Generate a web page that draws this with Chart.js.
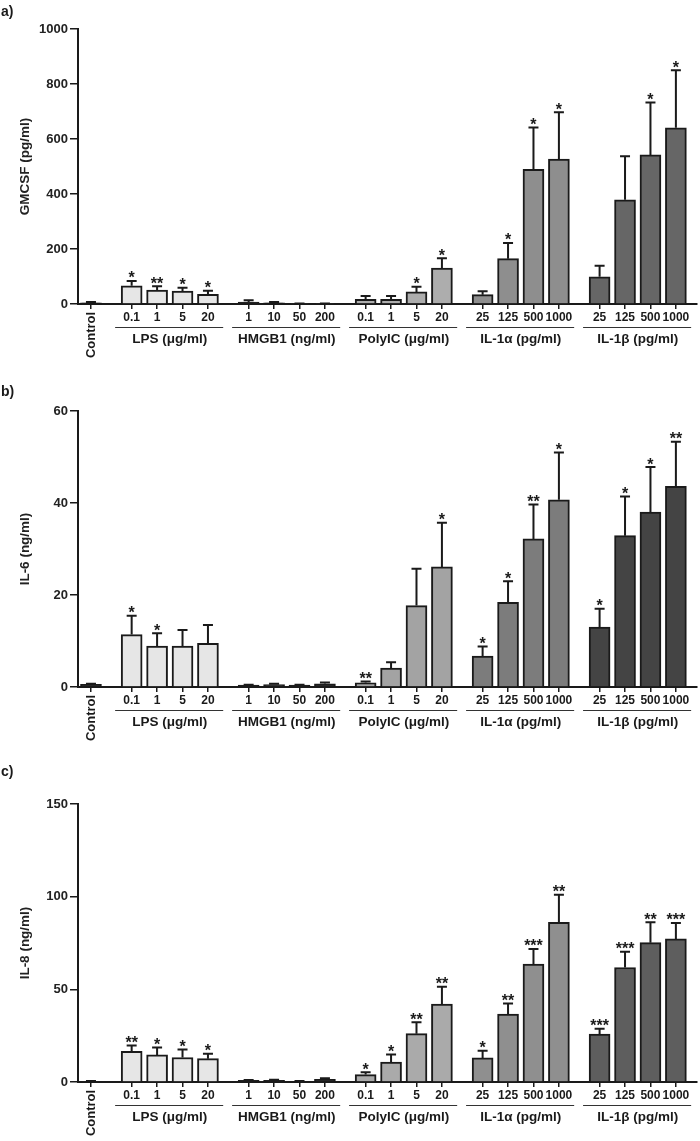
<!DOCTYPE html>
<html>
<head>
<meta charset="utf-8">
<script src="https://cdn.jsdelivr.net/npm/chart.js@4.4.0/dist/chart.umd.min.js"></script>
<style>
  body { margin: 0; background: #fff; }
  canvas { position: absolute; left: 0; }
</style>
</head>
<body>
<canvas id="chart-a" width="700" height="380" style="top:0"></canvas>
<canvas id="chart-b" width="700" height="380" style="top:380px"></canvas>
<canvas id="chart-c" width="700" height="381" style="top:760px"></canvas>
<script>
const groups = ['LPS (\u03bcg/ml)', 'HMGB1 (ng/ml)', 'PolyIC (\u03bcg/ml)', 'IL-1\u03b1 (pg/ml)', 'IL-1\u03b2 (pg/ml)']
const doses = [
  ['0.1', '1', '5', '20'],
  ['1', '10', '50', '200'],
  ['0.1', '1', '5', '20'],
  ['25', '125', '500', '1000'],
  ['25', '125', '500', '1000']
]

// order: Control, LPS x4, HMGB1 x4, PolyIC x4, IL-1a x4, IL-1b x4
const gmcsfMean = [4, 66, 51, 47, 35, 7, 4, 1, 1, 17, 17, 44, 131, 34, 165, 490, 527, 99, 379, 542, 641]
const gmcsfErr = [3, 18, 14, 12, 13, 7, 3, 1, 1, 12, 12, 19, 35, 12, 57, 152, 170, 40, 158, 191, 209]
const gmcsfStars = ['', '*', '**', '*', '*', '', '', '', '', '', '', '*', '*', '', '*', '*', '*', '', '', '*', '*']
const gmcsfTicks = [0, 200, 400, 600, 800, 1000]

const il6Mean = [0.6, 11.4, 8.9, 8.9, 9.5, 0.4, 0.5, 0.4, 0.7, 0.9, 4.1, 17.7, 26.1, 6.7, 18.4, 32.2, 40.7, 13.0, 32.9, 38.0, 43.6]
const il6Err = [0.1, 4.1, 2.8, 3.5, 4.0, 0.1, 0.2, 0.1, 0.3, 0.3, 1.3, 8.0, 9.6, 2.1, 4.6, 7.5, 10.3, 4.0, 8.5, 9.8, 9.7]
const il6Stars = ['', '*', '*', '', '', '', '', '', '', '**', '', '', '*', '*', '*', '**', '*', '*', '*', '*', '**']
const il6Ticks = [0, 20, 40, 60]

const il8Mean = [0.3, 16.6, 14.6, 13.2, 12.6, 0.9, 0.9, 0.4, 1.4, 4.0, 10.8, 26.1, 42.0, 13.0, 36.6, 63.6, 86.2, 25.8, 61.8, 75.2, 77.2]
const il8Err = [0.2, 3.1, 4.0, 4.3, 2.7, 0.2, 0.3, 0.1, 0.6, 1.2, 4.0, 6.2, 9.4, 3.9, 5.8, 8.2, 14.9, 2.9, 8.5, 11.0, 8.6]
const il8Stars = ['', '**', '*', '*', '*', '', '', '', '', '*', '*', '**', '**', '*', '**', '***', '**', '***', '***', '**', '***']
const il8Ticks = [0, 50, 100, 150]

Chart.defaults.font.family = "'Liberation Sans', Arial, sans-serif"
Chart.defaults.color = '#222'

const FONT = "'Liberation Sans', Arial, sans-serif"
const INK = '#1a1a1a'

// bar slot on the x scale: control, then 5 groups of 4 with a wider gap between groups
const xPos = (i) => i === 0 ? 0 : 1.6 + 4.6 * Math.floor((i - 1) / 4) + (i - 1) % 4
const xs = gmcsfMean.map((v, i) => xPos(i))

const barColors = (c) => {
  const out = ['#262626']
  c.forEach(col => { for (let k = 0; k < 4; k++) out.push(col) })
  return out
}

const decorations = (panel, mean, err, stars) => ({
  id: 'decorations',
  afterDatasetsDraw(chart) {
    const { ctx, scales: { x, y } } = chart
    ctx.save()
    ctx.strokeStyle = INK
    ctx.fillStyle = INK
    ctx.lineWidth = 2
    mean.forEach((m, i) => {
      const px = x.getPixelForValue(xs[i])
      const y0 = y.getPixelForValue(m)
      const y1 = y.getPixelForValue(m + err[i])
      ctx.beginPath()
      ctx.moveTo(px, y0)
      ctx.lineTo(px, y1)
      ctx.moveTo(px - 5, y1)
      ctx.lineTo(px + 5, y1)
      ctx.stroke()
      if (stars[i]) {
        ctx.font = 'bold 16px ' + FONT
        ctx.textAlign = 'center'
        ctx.textBaseline = 'alphabetic'
        ctx.fillText(stars[i], px, y1 + 2.5)
      }
    })
    ctx.restore()
  },
  afterDraw(chart) {
    const { ctx, chartArea, scales: { x } } = chart
    const b = chartArea.bottom
    ctx.save()
    ctx.fillStyle = INK
    ctx.strokeStyle = '#333'
    ctx.font = 'bold 14px ' + FONT
    ctx.textAlign = 'left'
    ctx.textBaseline = 'alphabetic'
    ctx.fillText(panel, 1, 16)

    ctx.textAlign = 'center'
    ctx.textBaseline = 'middle'
    groups.forEach((g, k) => {
      ctx.font = 'bold 12px ' + FONT
      doses[k].forEach((d, j) => {
        ctx.fillText(d, x.getPixelForValue(xs[1 + k * 4 + j]), b + 14)
      })
      const first = xs[1 + k * 4]
      const last = xs[4 + k * 4]
      ctx.lineWidth = 1
      ctx.beginPath()
      ctx.moveTo(x.getPixelForValue(first - 0.65), b + 23.5)
      ctx.lineTo(x.getPixelForValue(last + 0.6), b + 23.5)
      ctx.stroke()
      ctx.font = 'bold 13.5px ' + FONT
      ctx.fillText(g, x.getPixelForValue((first + last) / 2), b + 35)
    })

    ctx.translate(x.getPixelForValue(xs[0]), b + 31)
    ctx.rotate(-Math.PI / 2)
    ctx.font = 'bold 13px ' + FONT
    ctx.fillText('Control', 0, 0)
    ctx.restore()
  }
})

const makeChart = (id, cfg) => {
  const canvas = document.getElementById(id)
  const H = canvas.height
  return new Chart(canvas, {
    type: 'bar',
    data: {
      datasets: [{
        data: cfg.mean.map((v, i) => ({ x: xs[i], y: v })),
        backgroundColor: barColors(cfg.colors),
        borderColor: INK,
        borderWidth: 2,
        barThickness: 21
      }]
    },
    options: {
      responsive: false,
      animation: false,
      devicePixelRatio: 1,
      layout: { padding: { top: cfg.top, right: 3, bottom: 0, left: 0 } },
      plugins: { legend: { display: false }, tooltip: { enabled: false } },
      scales: {
        x: {
          type: 'linear',
          min: -0.51,
          max: 23.83,
          offset: false,
          grid: { offset: false, drawOnChartArea: false, tickLength: 5, color: INK, lineWidth: 1.5 },
          border: { color: INK, width: 2 },
          ticks: { display: false },
          afterBuildTicks: (s) => { s.ticks = xs.map(v => ({ value: v })) },
          afterFit: (s) => {
            s.height = H - cfg.bottom
            s.paddingLeft = 0
            s.paddingRight = 0
          }
        },
        y: {
          min: 0,
          max: cfg.ticks[cfg.ticks.length - 1],
          grid: { drawOnChartArea: false, tickLength: 8, color: INK, lineWidth: 1.5 },
          border: { color: INK, width: 2 },
          ticks: {
            padding: 2,
            font: { size: 13, weight: 'bold' },
            color: '#222',
            callback: (v) => String(v)
          },
          afterBuildTicks: (s) => { s.ticks = cfg.ticks.map(v => ({ value: v })) },
          title: {
            display: true,
            text: cfg.title,
            font: { size: 13.5, weight: 'bold' },
            color: '#222',
            padding: { top: 17, bottom: 0 }
          },
          afterFit: (s) => {
            s.width = 78
            s.paddingTop = 0
            s.paddingBottom = 0
          }
        }
      }
    },
    plugins: [decorations(cfg.panel, cfg.mean, cfg.err, cfg.stars)]
  })
}

makeChart('chart-a', {
  panel: 'a)', title: 'GMCSF (pg/ml)',
  mean: gmcsfMean, err: gmcsfErr, stars: gmcsfStars, ticks: gmcsfTicks,
  colors: ['#e6e6e6', '#262626', '#adadad', '#8e8e8e', '#666666'],
  top: 29, bottom: 304
})

makeChart('chart-b', {
  panel: 'b)', title: 'IL-6 (ng/ml)',
  mean: il6Mean, err: il6Err, stars: il6Stars, ticks: il6Ticks,
  colors: ['#e6e6e6', '#262626', '#a3a3a3', '#7c7c7c', '#444444'],
  top: 31, bottom: 307
})

makeChart('chart-c', {
  panel: 'c)', title: 'IL-8 (ng/ml)',
  mean: il8Mean, err: il8Err, stars: il8Stars, ticks: il8Ticks,
  colors: ['#e6e6e6', '#262626', '#aaaaaa', '#8f8f8f', '#5e5e5e'],
  top: 44, bottom: 322
})
</script>
</body>
</html>
